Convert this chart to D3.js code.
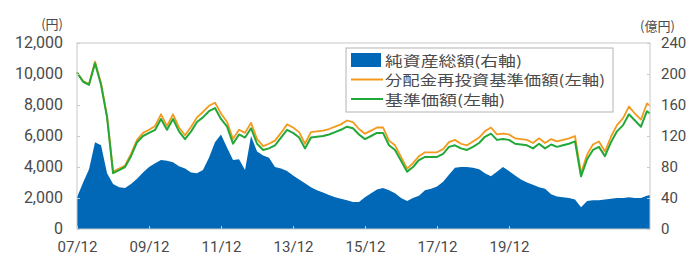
<!DOCTYPE html>
<html>
<head>
<meta charset="utf-8">
<script src="https://cdn.jsdelivr.net/npm/d3@7"></script>
<style>
  body { margin: 0; background: #fff; }
  svg { display: block; }
  .tick text { font-family: Roboto, "Noto Sans", sans-serif; fill: #4a4a4a; }
</style>
</head>
<body>
<svg id="chart" width="687" height="255"></svg>
<script>
// Months (every two months, last point Nov 2023)
const months = [
  "2007-12",
  "2008-02","2008-04","2008-06","2008-08","2008-10","2008-12",
  "2009-02","2009-04","2009-06","2009-08","2009-10","2009-12",
  "2010-02","2010-04","2010-06","2010-08","2010-10","2010-12",
  "2011-02","2011-04","2011-06","2011-08","2011-10","2011-12",
  "2012-02","2012-04","2012-06","2012-08","2012-10","2012-12",
  "2013-02","2013-04","2013-06","2013-08","2013-10","2013-12",
  "2014-02","2014-04","2014-06","2014-08","2014-10","2014-12",
  "2015-02","2015-04","2015-06","2015-08","2015-10","2015-12",
  "2016-02","2016-04","2016-06","2016-08","2016-10","2016-12",
  "2017-02","2017-04","2017-06","2017-08","2017-10","2017-12",
  "2018-02","2018-04","2018-06","2018-08","2018-10","2018-12",
  "2019-02","2019-04","2019-06","2019-08","2019-10","2019-12",
  "2020-02","2020-04","2020-06","2020-08","2020-10","2020-12",
  "2021-02","2021-04","2021-06","2021-08","2021-10","2021-12",
  "2022-02","2022-04","2022-06","2022-08","2022-10","2022-12",
  "2023-02","2023-04","2023-06","2023-08","2023-10","2023-11"
];

// 基準価額 (円, left axis)
const nav = [
  10100, 9500, 9300, 10700, 9300, 7200, 3600,
  3800, 4000, 4700, 5600, 6000, 6200,
  6400, 7100, 6400, 7100, 6300, 5800,
  6300, 6900, 7200, 7600, 7800, 7100,
  6600, 5500, 6100, 5900, 6500, 5500,
  5100, 5200, 5400, 5900, 6400, 6200,
  5900, 5200, 5900, 5950, 6000, 6100,
  6250, 6400, 6600, 6500, 6100, 5800,
  6000, 6200, 6200, 5400, 5100, 4400,
  3700, 4000, 4450, 4650, 4650, 4650,
  4850, 5300, 5400, 5200, 5100, 5300,
  5550, 5950, 6150, 5750, 5800, 5750,
  5500, 5450, 5400, 5200, 5500, 5200,
  5450, 5300, 5400, 5500, 5650, 3400,
  4500, 5100, 5300, 4700, 5600, 6300,
  6700, 7400, 7000, 6600, 7600, 7450
];

// 分配金再投資基準価額 (円, left axis)
const navReinvested = [
  10100, 9550, 9350, 10800, 9400, 7300, 3700,
  3900, 4100, 4850, 5750, 6200, 6400,
  6650, 7400, 6650, 7400, 6550, 6050,
  6600, 7200, 7550, 7950, 8150, 7450,
  6900, 5800, 6400, 6200, 6850, 5800,
  5350, 5500, 5700, 6200, 6750, 6550,
  6250, 5500, 6250, 6300, 6350, 6450,
  6600, 6750, 7000, 6900, 6450, 6150,
  6350, 6550, 6550, 5700, 5400, 4650,
  3900, 4250, 4700, 4950, 4950, 4950,
  5150, 5600, 5750, 5500, 5400, 5650,
  5900, 6300, 6550, 6100, 6150, 6100,
  5850, 5800, 5750, 5550, 5850, 5550,
  5800, 5650, 5750, 5850, 6000, 3600,
  4800, 5450, 5650, 5000, 5950, 6700,
  7150, 7900, 7450, 7050, 8100, 7950
];

// 純資産総額 (億円, right axis)
const netAssets = [
  41, 60, 77, 112, 108, 72, 58,
  54, 53, 58, 65, 73, 80,
  85, 89, 88, 86, 81, 78,
  73, 72, 76, 92, 112, 122,
  105, 89, 90, 76, 120, 100,
  95, 92, 80, 78, 75, 69,
  64, 59, 54, 50, 47, 44,
  41, 39, 37, 35, 35, 41,
  46, 51, 53, 50, 46, 40,
  36, 40, 43, 50, 52, 55,
  61, 70, 79, 80, 80, 79,
  77, 72, 68, 74, 80, 75,
  69, 64, 60, 57, 54, 52,
  45, 42, 41, 40, 38, 28,
  36, 37, 37, 38, 39, 40,
  40, 41, 40, 40, 43, 44
];

const leftTicks = [0, 2000, 4000, 6000, 8000, 10000, 12000];
const rightTicks = [0, 40, 80, 120, 160, 200, 240];
const xTicks = ["2007-12", "2009-12", "2011-12", "2013-12", "2015-12", "2017-12", "2019-12"];

const legendItems = [
  { label: "純資産総額(右軸)", type: "rect", color: "#0068b7" },
  { label: "分配金再投資基準価額(左軸)", type: "line", color: "#f39a1e" },
  { label: "基準価額(左軸)", type: "line", color: "#22a838" }
];

const plot = { left: 77, right: 650, top: 43, bottom: 229 };
const parse = d3.timeParse("%Y-%m");
const data = months.map((m, i) => ({
  date: parse(m), nav: nav[i], re: navReinvested[i], assets: netAssets[i]
}));

const svg = d3.select("#chart");

const x = d3.scaleTime().domain([parse("2007-12"), parse("2023-11")]).range([plot.left, plot.right]);
const yL = d3.scaleLinear().domain([0, 12000]).range([plot.bottom, plot.top]);
const yR = d3.scaleLinear().domain([0, 240]).range([plot.bottom, plot.top]);

// net assets area
svg.append("path")
  .datum(data)
  .attr("fill", "#0068b7")
  .attr("d", d3.area().x(d => x(d.date)).y0(yR(0)).y1(d => yR(d.assets)));

// lines
svg.append("path")
  .datum(data)
  .attr("fill", "none").attr("stroke", "#f39a1e").attr("stroke-width", 1.8)
  .attr("stroke-linejoin", "round")
  .attr("d", d3.line().x(d => x(d.date)).y(d => yL(d.re)));

svg.append("path")
  .datum(data)
  .attr("fill", "none").attr("stroke", "#22a838").attr("stroke-width", 2)
  .attr("stroke-linejoin", "round")
  .attr("d", d3.line().x(d => x(d.date)).y(d => yL(d.nav)));

// frame
svg.append("rect")
  .attr("x", plot.left).attr("y", plot.top)
  .attr("width", plot.right - plot.left).attr("height", plot.bottom - plot.top)
  .attr("fill", "none").attr("stroke", "#c8c8c8").attr("stroke-width", 1);

// axes
const gL = svg.append("g").attr("transform", `translate(${plot.left},0)`)
  .call(d3.axisLeft(yL).tickValues(leftTicks).tickFormat(d3.format(",")).tickSize(-3).tickPadding(14));
const gR = svg.append("g").attr("transform", `translate(${plot.right},0)`)
  .call(d3.axisRight(yR).tickValues(rightTicks).tickSize(-3).tickPadding(11));
const gB = svg.append("g").attr("transform", `translate(0,${plot.bottom})`)
  .call(d3.axisBottom(x).tickValues(xTicks.map(parse)).tickFormat(d3.timeFormat("%y/%m")).tickSize(-3).tickPadding(12));

[gL, gR, gB].forEach(g => {
  g.select(".domain").remove();
  g.selectAll(".tick line").attr("stroke", "#c8c8c8");
  g.selectAll(".tick text").attr("font-size", 16);
});
gR.selectAll(".tick text").attr("font-size", 15);
gB.selectAll(".tick text").attr("font-size", 15);
gL.selectAll(".tick text").attr("dy", "0.26em");

// units
svg.append("text").attr("x", 63).attr("y", 29).attr("text-anchor", "end")
  .attr("font-family", "'Noto Sans CJK JP', sans-serif").attr("font-size", 13).attr("fill", "#4a4a4a")
  .text("(円)");
svg.append("text").attr("x", 640).attr("y", 31)
  .attr("font-family", "'Noto Sans CJK JP', sans-serif").attr("font-size", 13).attr("fill", "#4a4a4a")
  .text("(億円)");

// legend
const lg = svg.append("g").attr("transform", "translate(346,48)");
lg.append("rect").attr("width", 267).attr("height", 64)
  .attr("fill", "#fff").attr("stroke", "#b4b4b4").attr("stroke-width", 1);

const textWidths = [137, 220, 120];
const row = lg.selectAll(".row").data(legendItems).enter().append("g")
  .attr("transform", (d, i) => `translate(0,${12 + i * 19.5})`);
row.filter(d => d.type === "rect").append("rect")
  .attr("x", 5).attr("y", -7).attr("width", 30).attr("height", 14).attr("fill", d => d.color);
row.filter(d => d.type === "line").append("line")
  .attr("x1", 5).attr("x2", 37).attr("y1", 0).attr("y2", 0)
  .attr("stroke", d => d.color).attr("stroke-width", 2);
row.append("text")
  .attr("x", 39).attr("y", 5.5)
  .attr("font-family", "'Noto Sans CJK JP', sans-serif").attr("font-size", 14).attr("fill", "#4a4a4a")
  .attr("textLength", (d, i) => textWidths[i]).attr("lengthAdjust", "spacingAndGlyphs")
  .text(d => d.label);
</script>
</body>
</html>
